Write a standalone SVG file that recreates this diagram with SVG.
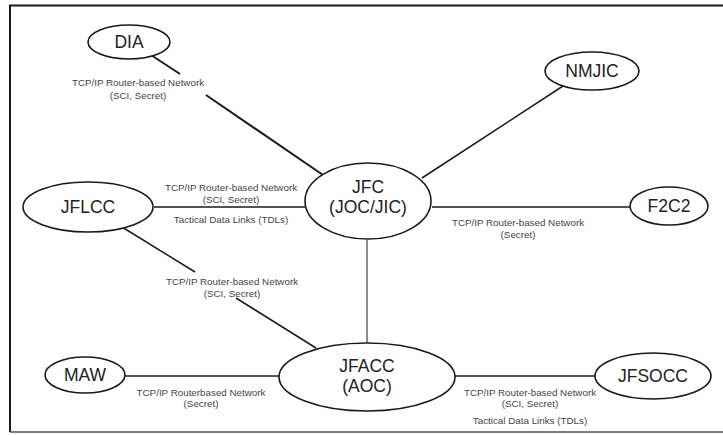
<svg xmlns="http://www.w3.org/2000/svg" width="723" height="435" viewBox="0 0 723 435">
<style>
.node ellipse{fill:#fff;stroke:#1a1a1a;stroke-width:1.6}
.node text{font-family:"Liberation Sans",Arial,sans-serif;font-size:17.5px;fill:#222;text-anchor:middle}
.lbl{font-family:"Liberation Sans",Arial,sans-serif;font-size:9.8px;fill:#444;text-anchor:middle}
#connectors line{stroke:#1a1a1a;stroke-width:1.5}
</style>
<rect x="0" y="0" width="723" height="435" fill="#fff"/>
<path d="M10 432 V5.5 H723" fill="none" stroke="#1a1a1a" stroke-width="2"/>
<line x1="10" y1="432" x2="723" y2="432" stroke="#555" stroke-width="1.5"/>
<g id="connectors">
<line x1="151" y1="55" x2="180" y2="74" style="stroke-width:2"/>
<line x1="206" y1="95" x2="323" y2="175" style="stroke-width:2"/>
<line x1="154" y1="207" x2="305" y2="207"/>
<line x1="422" y1="178" x2="563" y2="86"/>
<line x1="432" y1="207" x2="630" y2="207"/>
<line x1="367" y1="240" x2="367" y2="343" style="stroke:#666"/>
<line x1="122" y1="227" x2="195" y2="272"/>
<line x1="236" y1="298" x2="316" y2="348"/>
<line x1="124" y1="376" x2="279" y2="376"/>
<line x1="455" y1="376" x2="595" y2="376"/>
</g>
<g id="labels">
<text class="lbl" x="138" y="86">TCP/IP Router-based Network</text>
<text class="lbl" x="138" y="99">(SCI, Secret)</text>
<text class="lbl" x="231" y="191">TCP/IP Router-based Network</text>
<text class="lbl" x="231" y="203">(SCI, Secret)</text>
<text class="lbl" x="231" y="223">Tactical Data Links (TDLs)</text>
<text class="lbl" x="518" y="226">TCP/IP Router-based Network</text>
<text class="lbl" x="518" y="238">(Secret)</text>
<text class="lbl" x="232" y="285">TCP/IP Router-based Network</text>
<text class="lbl" x="232" y="297">(SCI, Secret)</text>
<text class="lbl" x="201" y="396">TCP/IP Routerbased Network</text>
<text class="lbl" x="201" y="407">(Secret)</text>
<text class="lbl" x="530" y="396">TCP/IP Router-based Network</text>
<text class="lbl" x="530" y="407">(SCI, Secret)</text>
<text class="lbl" x="530" y="424">Tactical Data Links (TDLs)</text>
</g>
<g id="DIA" class="node"><ellipse cx="129" cy="42" rx="41" ry="17"/><text x="129" y="48">DIA</text></g>
<g id="NMJIC" class="node"><ellipse cx="592" cy="71" rx="47" ry="19"/><text x="592" y="77">NMJIC</text></g>
<g id="JFLCC" class="node"><ellipse cx="88" cy="207" rx="65" ry="25"/><text x="88" y="213">JFLCC</text></g>
<g id="JFC" class="node"><ellipse cx="368" cy="201" rx="63" ry="38"/><text x="368" y="193">JFC</text><text x="368" y="213">(JOC/JIC)</text></g>
<g id="F2C2" class="node"><ellipse cx="669" cy="206" rx="39" ry="19"/><text x="669" y="212">F2C2</text></g>
<g id="JFACC" class="node"><ellipse cx="367" cy="377" rx="88" ry="34"/><text x="367" y="372">JFACC</text><text x="367" y="392">(AOC)</text></g>
<g id="MAW" class="node"><ellipse cx="85" cy="375" rx="40" ry="18"/><text x="85" y="381">MAW</text></g>
<g id="JFSOCC" class="node"><ellipse cx="653" cy="376" rx="58" ry="23"/><text x="653" y="382">JFSOCC</text></g>
</svg>
